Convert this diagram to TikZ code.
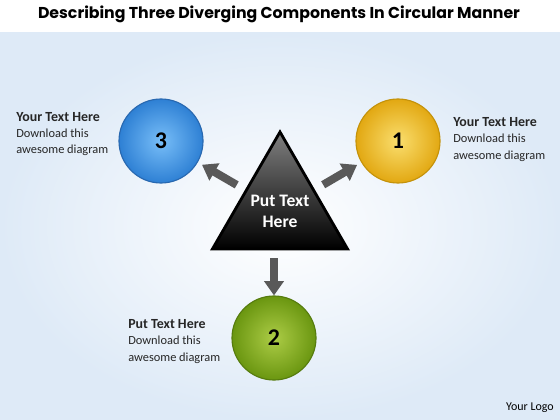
\documentclass[tikz,border=0pt]{standalone}
\usepackage{fontspec}
\setmainfont{Carlito}
\newfontfamily\titlefont{Poppins}
\usetikzlibrary{arrows.meta,shapes.geometric,positioning}
\definecolor{BgBlue}{RGB}{222,234,247}
\definecolor{BallBlueIn}{RGB}{120,190,248}
\definecolor{BallBlueOut}{RGB}{46,128,212}
\definecolor{BallBlueLine}{RGB}{40,104,176}
\definecolor{BallGoldIn}{RGB}{250,222,110}
\definecolor{BallGoldOut}{RGB}{226,168,18}
\definecolor{BallGoldLine}{RGB}{196,146,10}
\definecolor{BallGreenIn}{RGB}{172,204,70}
\definecolor{BallGreenOut}{RGB}{106,150,16}
\definecolor{BallGreenLine}{RGB}{86,124,14}
\newcommand{\caphead}[1]{{\bfseries\fontsize{9.9}{11.4}\selectfont #1}}

\begin{document}
\begin{tikzpicture}[x=0.025cm, y=-0.025cm,
      every node/.append style={font=\fontsize{8.8}{11.4}\selectfont},
      ball/.style={circle, minimum size=2.1cm, inner sep=0pt, line width=0.8pt,
        shading=radial, font=\bfseries\fontsize{17}{17}\selectfont},
      push/.style={line width=0.2cm, color=black!65,
        -{Triangle[length=0.36cm, width=0.48cm]}},
      caption/.style={align=left, inner sep=0pt, anchor=base west, text=black!85}]
    \useasboundingbox (0,0) rectangle (560,420);
    % background
    \fill[white] (0,0) rectangle (560,420);
    \shade[inner color=white, outer color=BgBlue] (0,33) rectangle (560,420);
    \node (title) at (279,14) {\titlefont\bfseries\fontsize{11.2}{13}\selectfont
      Describing Three Diverging Components In Circular Manner};
    % centre triangle
    \node (tri) [regular polygon, regular polygon sides=3, minimum size=3.9cm,
      inner sep=0pt, draw=black, line width=2pt, shading=axis,
      top color=black!50, middle color=black!90, bottom color=black] at (280,210) {};
    \node (put) [align=center, text=white, font=\bfseries\fontsize{12.5}{15}\selectfont]
      at ([yshift=-0.03cm]tri.center) {Put Text\\Here};
    % the three balls
    \node (one) [ball, inner color=BallGoldIn, outer color=BallGoldOut, draw=BallGoldLine] at (398,141) {1};
    \node (two) [ball, inner color=BallGreenIn, outer color=BallGreenOut, draw=BallGreenLine] at (274,338) {2};
    \node (three) [ball, inner color=BallBlueIn, outer color=BallBlueOut, draw=BallBlueLine] at (161,141) {3};
    % arrows
    \draw[push, shorten <=1.25cm, shorten >=0.12cm] (tri.center) -- (one);
    \draw[push, shorten <=1.25cm, shorten >=0.12cm] (tri.center) -- (three);
    \draw[push, shorten <=0.2cm] (two |- tri.south) -- (two);
    % captions (anchored at the last line)
    \node (capthree) [caption] at (16,154)
      {\caphead{Your Text Here}\\Download this\\awesome diagram};
    \node (capone) [caption] at (453,159)
      {\caphead{Your Text Here}\\Download this\\awesome diagram};
    \node (captwo) [caption] at (128,361)
      {\caphead{Put Text Here}\\Download this\\awesome diagram};
    \node (logo) [font=\fontsize{8.5}{10}\selectfont] at (530,408) {Your Logo};
\end{tikzpicture}
\end{document}
